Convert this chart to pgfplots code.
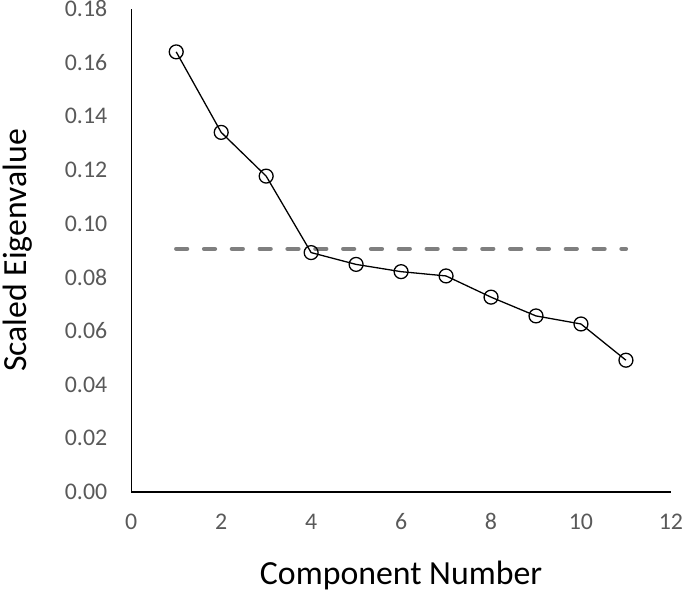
\documentclass[border=0pt]{standalone}
\usepackage{fontspec}
\setmainfont{Carlito}
\usepackage{pgfplots}
\pgfplotsset{compat=1.18}
\definecolor{tickgray}{HTML}{595959}
\definecolor{dashgray}{HTML}{7F7F7F}
\begin{document}
\begin{tikzpicture}
\begin{axis}[
  at={(0,0)}, anchor=south west,
  scale only axis,
  width=543pt, height=486pt,
  xmin=0, xmax=12, ymin=0, ymax=0.18,
  xtick={0,2,...,12},
  ytick={0,0.02,...,0.18},
  axis x line*=bottom, axis y line*=left,
  axis line style={black, line width=1.3pt, -},
  major tick length=0pt,
  /pgf/number format/assume math mode=true,
  yticklabel style={/pgf/number format/.cd, fixed, fixed zerofill, precision=2, /tikz/.cd,
    font=\fontsize{24}{28}\selectfont, text=tickgray, anchor=east, inner sep=0pt, xshift=-24pt},
  xticklabel style={font=\fontsize{24}{28}\selectfont, text=tickgray, anchor=base, inner sep=0pt, yshift=-38pt},
  scaled y ticks=false,
  xlabel={Component Number},
  ylabel={Scaled Eigenvalue},
  xlabel style={at={([yshift=-93pt]axis description cs:0.5,0)}, anchor=base, font=\fontsize{34}{40}\selectfont},
  ylabel style={at={([xshift=-114pt]axis description cs:0,0.5)}, anchor=center, font=\fontsize{34}{40}\selectfont},
  clip=false,
]
\addplot[black, line width=1.3pt, mark=o, mark size=7pt, mark options={solid, line width=1.3pt}]
coordinates {
(1,0.1640) (2,0.1340) (3,0.1177) (4,0.0892) (5,0.0848) (6,0.0821)
(7,0.0805) (8,0.0726) (9,0.0656) (10,0.0626) (11,0.0491)
};
\addplot[dashgray, line width=4.3pt, line cap=round, dash pattern=on 11pt off 17pt]
coordinates {(1,0.0906) (11,0.0906)};
\end{axis}
\useasboundingbox (-128pt,-102pt) rectangle (555pt,495pt);
\end{tikzpicture}
\end{document}
